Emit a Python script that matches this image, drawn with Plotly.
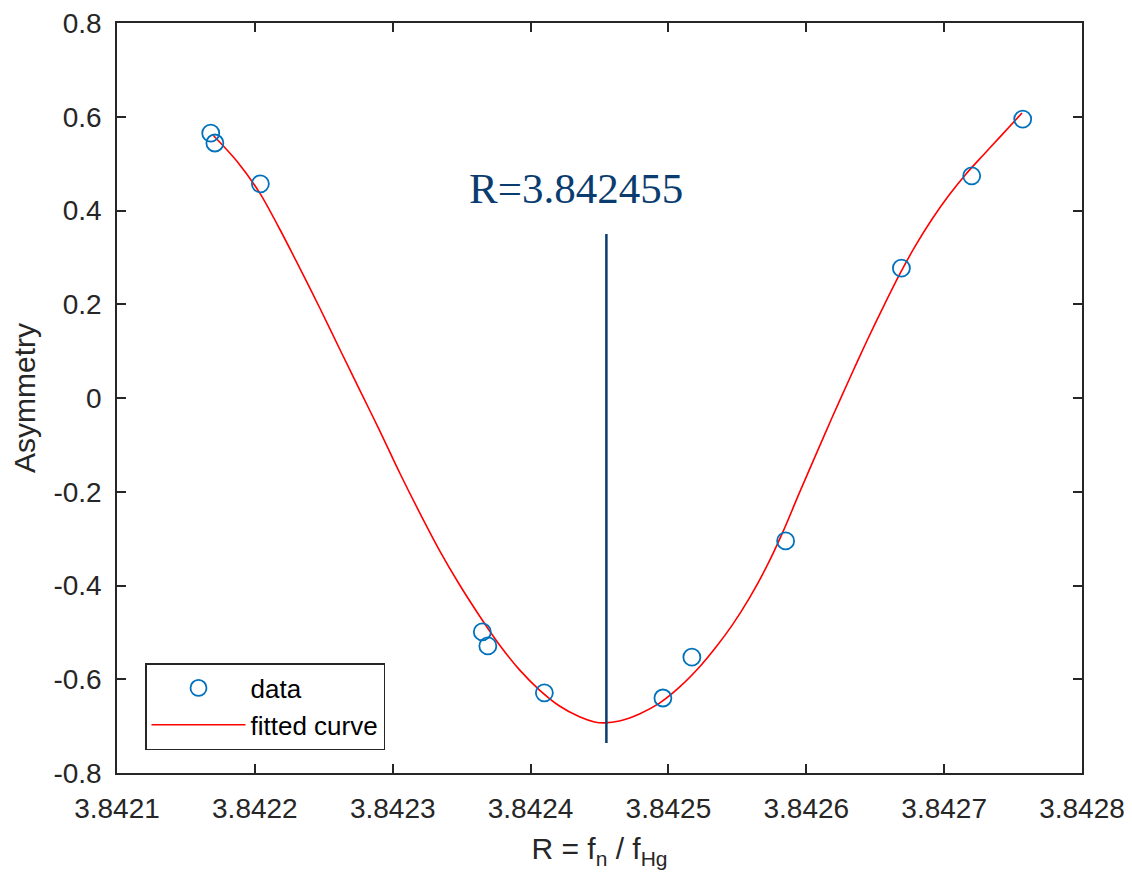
import plotly.graph_objects as go

# Measured data points
data_x = [3.842168, 3.842171, 3.842204, 3.842365, 3.842369, 3.842410,
          3.842496, 3.842517, 3.842585, 3.842669, 3.842720, 3.842757]
data_y = [0.565, 0.544, 0.457, -0.499, -0.529, -0.629,
          -0.640, -0.553, -0.305, 0.277, 0.474, 0.595]

# Fitted curve
fit_x = [3.8421696, 3.8421870, 3.8422036, 3.8422181, 3.8422326, 3.8422471,
         3.8422616, 3.8422761, 3.8422906, 3.8423051, 3.8423196, 3.8423341,
         3.8423486, 3.8423630, 3.8423775, 3.8423920, 3.8424065, 3.8424210,
         3.8424355, 3.8424464, 3.8424536, 3.8424645, 3.8424790, 3.8424935,
         3.8425080, 3.8425225, 3.8425341, 3.8425464, 3.8425587, 3.8425710,
         3.8425833, 3.8425949, 3.8426065, 3.8426188, 3.8426312, 3.8426435,
         3.8426558, 3.8426674, 3.8426790, 3.8426913, 3.8427036, 3.8427159,
         3.8427283, 3.8427399, 3.8427565]
fit_y = [0.561, 0.505, 0.437, 0.360, 0.277, 0.192,
         0.104, 0.017, -0.070, -0.160, -0.245, -0.326,
         -0.399, -0.465, -0.527, -0.580, -0.623, -0.657,
         -0.680, -0.691, -0.693, -0.689, -0.674, -0.651,
         -0.617, -0.574, -0.533, -0.484, -0.427, -0.361,
         -0.284, -0.203, -0.124, -0.041, 0.040, 0.119,
         0.194, 0.262, 0.324, 0.382, 0.433, 0.478,
         0.518, 0.555, 0.608]

# Resonance marker
r_value = 3.842455
r_line_y = [-0.736, 0.35]
r_label = "R=3.842455"

x_ticks = [3.8421, 3.8422, 3.8423, 3.8424, 3.8425, 3.8426, 3.8427, 3.8428]
x_ticktext = ["3.8421", "3.8422", "3.8423", "3.8424", "3.8425", "3.8426", "3.8427", "3.8428"]
y_ticks = [-0.8, -0.6, -0.4, -0.2, 0, 0.2, 0.4, 0.6, 0.8]
y_ticktext = ["-0.8", "-0.6", "-0.4", "-0.2", "0", "0.2", "0.4", "0.6", "0.8"]

axis_color = "#262626"
font_sans = "Liberation Sans, Arial, sans-serif"

fig = go.Figure()

fig.add_trace(go.Scatter(
    x=fit_x, y=fit_y, mode="lines", name="fitted curve",
    line=dict(color="#FF0000", width=1.6, shape="spline", smoothing=0.8),
))
fig.add_trace(go.Scatter(
    x=[r_value, r_value], y=r_line_y, mode="lines", showlegend=False,
    line=dict(color="#0B3C70", width=2.5),
))
fig.add_trace(go.Scatter(
    x=data_x, y=data_y, mode="markers", name="data",
    marker=dict(symbol="circle-open", size=17, color="#0072BD",
                line=dict(width=1.8, color="#0072BD")),
))

fig.add_annotation(
    x=3.842433, y=0.448, xref="x", yref="y", text=r_label, showarrow=False,
    font=dict(family="Liberation Serif, Times New Roman, serif", size=43, color="#0B3C70"),
    xanchor="center", yanchor="middle",
)

axis_common = dict(
    showline=True, linecolor=axis_color, linewidth=1.5, mirror="ticks",
    ticks="inside", ticklen=9, tickwidth=1.5, tickcolor=axis_color,
    showgrid=False, zeroline=False, tickangle=0,
    tickfont=dict(family=font_sans, size=28, color=axis_color),
)

fig.update_layout(
    width=1132, height=882,
    margin=dict(l=109, r=58, t=15, b=117, autoexpand=False),
    plot_bgcolor="white", paper_bgcolor="white",
    xaxis=dict(range=[3.8421, 3.8428], tickvals=x_ticks, ticktext=x_ticktext,
               ticklabelstandoff=10,
               title=dict(text="R = f<sub>n</sub> / f<sub>Hg</sub>",
                          font=dict(family=font_sans, size=30, color=axis_color),
                          standoff=15),
               **axis_common),
    yaxis=dict(range=[-0.8, 0.8], tickvals=y_ticks, ticktext=y_ticktext,
               ticklabelstandoff=8,
               title=dict(text="Asymmetry",
                          font=dict(family=font_sans, size=30, color=axis_color),
                          standoff=13),
               **axis_common),
    legend=dict(
        x=28 / 965, y=110 / 750, xref="paper", yref="paper",
        xanchor="left", yanchor="top",
        bgcolor="white", bordercolor=axis_color, borderwidth=1.5,
        font=dict(family=font_sans, size=26, color="#000000"),
        itemwidth=94, tracegroupgap=0, traceorder="reversed",
    ),
    showlegend=True,
)

fig.write_html("out.html")
